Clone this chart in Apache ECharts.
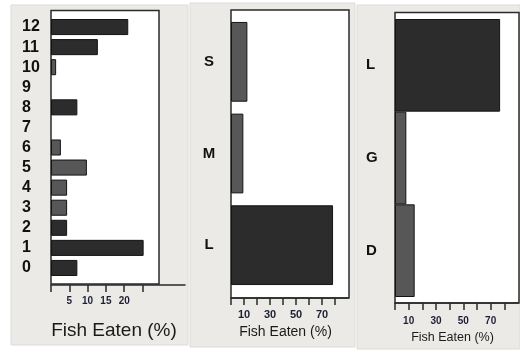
<!DOCTYPE html>
<html>
<head>
<meta charset="utf-8">
<script src="https://cdn.jsdelivr.net/npm/echarts@6/dist/echarts.min.js"></script>
<style>
  html, body { margin: 0; padding: 0; background: #fff; }
  #chart { width: 520px; height: 354px; }
</style>
</head>
<body>
<div id="chart"></div>
<script>
// panel 1: prey by number
const numCategories = ['0', '1', '2', '3', '4', '5', '6', '7', '8', '9', '10', '11', '12']
const numEaten = [7.2, 25.3, 4.4, 4.4, 4.4, 9.8, 2.7, 0, 7.2, 0, 1.4, 12.8, 21.1]
const numTicks = [0, 5, 10, 15, 20, 25]
const numTickLabels = [5, 10, 15, 20]

// panel 2: prey size
const sizeCategories = ['L', 'M', 'S']
const sizeEaten = [78.5, 9.5, 12.6]

// panel 3: prey type
const typeCategories = ['D', 'G', 'L']
const typeEaten = [14.4, 8.3, 76.9]

const pctTicks = [0, 10, 20, 30, 40, 50, 60, 70, 80]
const pctTickLabels = [10, 30, 50, 70]

// bar shades (style only)
const DARK = '#2c2c2c'
const MID = '#575757'
const numShades = [DARK, DARK, DARK, MID, MID, MID, MID, MID, DARK, MID, MID, DARK, DARK]
const sizeShades = [DARK, MID, MID]
const typeShades = [MID, MID, DARK]

const FONT = '"Liberation Sans", Arial, sans-serif'
const PANEL_BG = '#ebeae7'

const chart = echarts.init(document.getElementById('chart'))

function xAxisFor(gridIndex, max, ticks, labels, offset, fontSize, margin, nameSize, nameGap) {
  return {
    type: 'value',
    gridIndex,
    min: 0,
    max,
    offset,
    axisLine: { show: true, lineStyle: { color: '#2a2a2a', width: 1.5 } },
    axisTick: { show: true, length: 7, customValues: ticks, lineStyle: { color: '#2a2a2a', width: 1.5 } },
    axisLabel: { customValues: labels, fontSize, fontWeight: 'bold', margin, color: '#1c2033', fontFamily: FONT },
    splitLine: { show: false },
    name: 'Fish Eaten (%)',
    nameLocation: 'middle',
    nameGap,
    nameTextStyle: { fontSize: nameSize, color: '#1a1a1a', fontFamily: FONT, padding: [0, 8, 0, 0], verticalAlign: 'top' }
  }
}

function yAxisFor(gridIndex, data, fontSize, margin, align) {
  return {
    type: 'category',
    gridIndex,
    data,
    axisLine: { show: false },
    axisTick: { show: false },
    axisLabel: { interval: 0, fontSize, fontWeight: 'bold', margin, align, color: '#111', fontFamily: FONT }
  }
}

function barsFor(index, values, shades, gap) {
  return {
    type: 'bar',
    xAxisIndex: index,
    yAxisIndex: index,
    barCategoryGap: gap,
    data: values.map((v, i) => ({
      value: v,
      itemStyle: { color: shades[i], borderColor: '#141414', borderWidth: v > 0 ? 1 : 0 }
    }))
  }
}

function frame(x, y, w, h) {
  return { type: 'rect', shape: { x, y, width: w, height: h }, style: { fill: '#fff', stroke: '#2a2a2a', lineWidth: 1.5 }, z: -1 }
}

function panel(x, y, w, h) {
  return { type: 'rect', shape: { x, y, width: w, height: h }, style: { fill: PANEL_BG, stroke: '#dcdbd7', lineWidth: 1 }, z: -2 }
}

const option = {
  animation: false,
  backgroundColor: '#fff',
  graphic: [
    panel(11, 5, 177, 340),
    panel(190, 3, 165, 344),
    panel(357, 5, 163, 344),
    frame(51, 10.5, 108, 273.5),
    frame(231, 10, 118, 288),
    frame(395, 12.5, 124, 290.5)
  ],
  grid: [
    { left: 51, top: 17, width: 134, height: 261 },
    { left: 231, top: 16, width: 117, height: 275 },
    { left: 395, top: 19, width: 123, height: 278 }
  ],
  xAxis: [
    xAxisFor(0, 36.6, numTicks, numTickLabels, 7, 10, 11, 19, 36),
    xAxisFor(1, 90, pctTicks, pctTickLabels, 7, 11, 11, 14, 26),
    xAxisFor(2, 90, pctTicks, pctTickLabels, 6, 10, 13, 12.5, 23)
  ],
  yAxis: [
    yAxisFor(0, numCategories, 16, 29, 'left'),
    yAxisFor(1, sizeCategories, 15, 22, 'center'),
    yAxisFor(2, typeCategories, 15, 29, 'left')
  ],
  series: [
    barsFor(0, numEaten, numShades, '20%'),
    barsFor(1, sizeEaten, sizeShades, '13%'),
    barsFor(2, typeEaten, typeShades, '0%')
  ]
}

chart.setOption(option)

window.addEventListener('resize', () => {
  chart.resize()
})
</script>
</body>
</html>
